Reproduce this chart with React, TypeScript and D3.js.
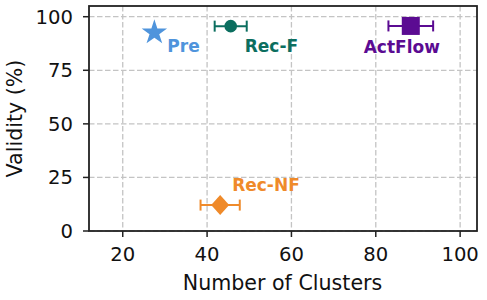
import React from "react";
import * as d3 from "d3";

const methods = ["Pre", "Rec-F", "ActFlow", "Rec-NF"];
const clusters = [27.5, 45.6, 88.3, 43.1];
const clusterErr = [0, 3.8, 5.3, 4.65];
const validity = [93.3, 95.6, 95.7, 12.1];
const colors = ["#4f94dc", "#0b6e5f", "#5b0b92", "#ef8a2a"];
const shapes = ["star", "circle", "square", "diamond"];
const xTicks = [20, 40, 60, 80, 100];
const yTicks = [0, 25, 50, 75, 100];
const labelOffsets: [number, number, string][] = [
  [13, 21, "start"],
  [14, 26, "start"],
  [-9, 27.5, "middle"],
  [12, -14, "start"],
];

const W = 487, H = 300;
const left = 89, right = 477, top = 6, bottom = 231;
const FONT = "DejaVu Sans, sans-serif";

export default function App() {
  const x = d3.scaleLinear().domain([12, 104]).range([left, right]);
  const y = d3.scaleLinear().domain([0, 105]).range([bottom, top]);

  const marker = (shape: string, cx: number, cy: number, color: string) => {
    if (shape === "star") {
      const p = d3.symbol(d3.symbolStar, 200)();
      return <path d={p as string} transform={`translate(${cx},${cy + 1.5})`} fill={color} />;
    }
    if (shape === "circle") return <circle cx={cx} cy={cy} r={6.3} fill={color} />;
    if (shape === "square") return <rect x={cx - 9} y={cy - 9} width={18} height={18} fill={color} />;
    return <path d={`M${cx},${cy - 10}L${cx + 9},${cy}L${cx},${cy + 10}L${cx - 9},${cy}Z`} fill={color} />;
  };

  return (
    <svg width={W} height={H} style={{ position: "absolute", left: 0, top: 0, background: "#fff" }}>
      {xTicks.map((t) => (
        <line key={"gx" + t} x1={x(t)} x2={x(t)} y1={top} y2={bottom} stroke="#c4c4c4" strokeWidth={1.3} strokeDasharray="5.5,2.5" />
      ))}
      {yTicks.map((t) => (
        <line key={"gy" + t} x1={left} x2={right} y1={y(t)} y2={y(t)} stroke="#c4c4c4" strokeWidth={1.3} strokeDasharray="5.5,2.5" />
      ))}
      {methods.map((m, i) => {
        const cx = x(clusters[i]);
        const cy = y(validity[i]);
        const c = colors[i];
        const e = clusterErr[i];
        const [dx, dy, anchor] = labelOffsets[i];
        return (
          <g key={m}>
            {e > 0 && (
              <g stroke={c} strokeWidth={2}>
                <line x1={x(clusters[i] - e)} x2={x(clusters[i] + e)} y1={cy} y2={cy} />
                <line x1={x(clusters[i] - e)} x2={x(clusters[i] - e)} y1={cy - 5.5} y2={cy + 5.5} />
                <line x1={x(clusters[i] + e)} x2={x(clusters[i] + e)} y1={cy - 5.5} y2={cy + 5.5} />
              </g>
            )}
            {marker(shapes[i], cx, cy, c)}
            <text x={cx + dx} y={cy + dy} fill={c} fontFamily={FONT} fontWeight="bold" fontSize={17} textAnchor={anchor}>
              {m}
            </text>
          </g>
        );
      })}
      <rect x={left} y={top} width={right - left} height={bottom - top} fill="none" stroke="#222" strokeWidth={1.8} />
      {xTicks.map((t) => (
        <g key={"tx" + t}>
          <line x1={x(t)} x2={x(t)} y1={bottom} y2={bottom + 6} stroke="#222" strokeWidth={1.5} />
          <text x={x(t)} y={261} textAnchor="middle" fontFamily={FONT} fontSize={19.6} fill="#111">{t}</text>
        </g>
      ))}
      {yTicks.map((t) => (
        <g key={"ty" + t}>
          <line x1={left - 6} x2={left} y1={y(t)} y2={y(t)} stroke="#222" strokeWidth={1.5} />
          <text x={73} y={y(t)} dy="0.36em" textAnchor="end" fontFamily={FONT} fontSize={19.6} fill="#111">{t}</text>
        </g>
      ))}
      <text x={(left + right) / 2 - 0.5} y={290} textAnchor="middle" fontFamily={FONT} fontSize={20.6} fill="#111">Number of Clusters</text>
      <text transform={`translate(21.5,${(top + bottom) / 2}) rotate(-90)`} textAnchor="middle" fontFamily={FONT} fontSize={20.6} fill="#111">Validity (%)</text>
    </svg>
  );
}
